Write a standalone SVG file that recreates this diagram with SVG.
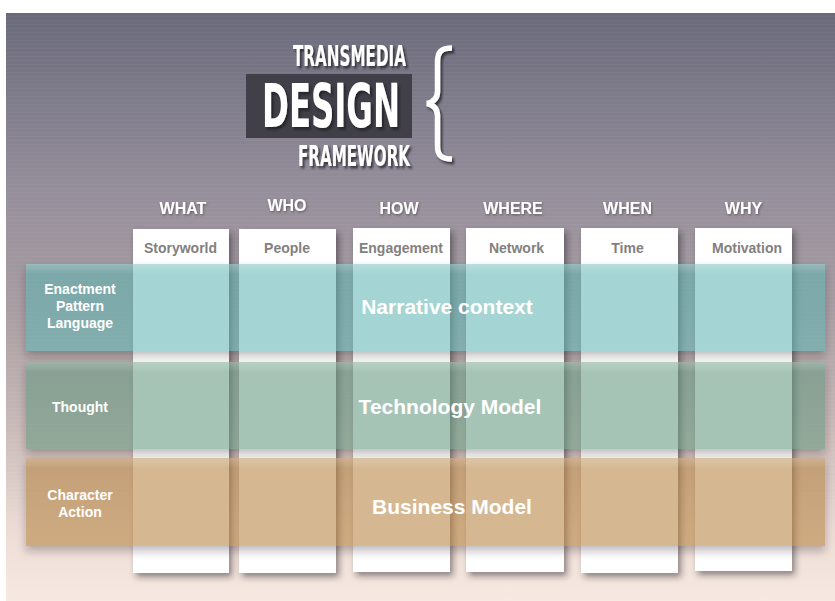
<svg xmlns="http://www.w3.org/2000/svg" width="835" height="601" viewBox="0 0 835 601">
  <defs>
    <linearGradient id="bg" x1="0" y1="0" x2="0" y2="1">
      <stop offset="0" stop-color="#6a6a7b"/>
      <stop offset="0.3" stop-color="#958e9b"/>
      <stop offset="0.5" stop-color="#a89da2"/>
      <stop offset="0.7" stop-color="#c9b9b8"/>
      <stop offset="0.88" stop-color="#ecdcd5"/>
      <stop offset="1" stop-color="#f7e9e1"/>
    </linearGradient>
    <pattern id="stripes" width="4" height="4" patternUnits="userSpaceOnUse">
      <rect width="4" height="1" fill="#ffffff" opacity="0.035"/>
    </pattern>
    <linearGradient id="sheen" x1="0" y1="0" x2="0" y2="1">
      <stop offset="0" stop-color="#ffffff" stop-opacity="0.22"/>
      <stop offset="0.12" stop-color="#ffffff" stop-opacity="0"/>
    </linearGradient>
    <filter id="colShadow" x="-20%" y="-10%" width="140%" height="125%">
      <feDropShadow dx="3" dy="4" stdDeviation="3" flood-color="#2a2228" flood-opacity="0.5"/>
    </filter>
    <!-- shadow cast only outside the shape, so translucent bands stay clean -->
    <filter id="outerShadow" x="-5%" y="-20%" width="110%" height="150%">
      <feGaussianBlur in="SourceAlpha" stdDeviation="4" result="blur"/>
      <feOffset in="blur" dx="0" dy="5" result="off"/>
      <feFlood flood-color="#2a2228" flood-opacity="0.3"/>
      <feComposite in2="off" operator="in" result="shade"/>
      <feComposite in="shade" in2="SourceAlpha" operator="out"/>
    </filter>
    <filter id="titleShadow" x="-10%" y="-10%" width="130%" height="140%">
      <feDropShadow dx="2" dy="2.5" stdDeviation="1.2" flood-color="#1c1a20" flood-opacity="0.75"/>
    </filter>
    <filter id="softShadow" x="-10%" y="-20%" width="130%" height="160%">
      <feDropShadow dx="0.8" dy="1.2" stdDeviation="0.8" flood-color="#3a3238" flood-opacity="0.55"/>
    </filter>
  </defs>
  <style>
    .title { font-family: "DejaVu Sans Condensed", "Liberation Sans Narrow", "Liberation Sans", sans-serif; font-stretch: condensed; font-weight: bold; fill: #ffffff; }
    .head { font-family: "Liberation Sans", Arial, sans-serif; font-weight: bold; font-size: 16px; fill: #ffffff; text-anchor: middle; }
    .sub { font-family: "Liberation Sans", Arial, sans-serif; font-weight: bold; font-size: 14px; fill: #838080; text-anchor: middle; }
    .row { font-family: "Liberation Sans", Arial, sans-serif; font-weight: bold; font-size: 14px; fill: #ffffff; text-anchor: middle; }
    .band-label { font-family: "Liberation Sans", Arial, sans-serif; font-weight: bold; font-size: 21px; fill: #ffffff; text-anchor: middle; }
    .col { fill: #ffffff; }
    .shade { fill: #000000; filter: url(#outerShadow); }
    .band { fill-opacity: 0.57; }
  </style>

  <!-- backdrop -->
  <rect x="6" y="13" width="829" height="588" fill="url(#bg)"/>
  <rect x="6" y="13" width="829" height="588" fill="url(#stripes)"/>

  <!-- title block -->
  <g id="title">
    <rect x="246" y="74" width="166" height="64" fill="#413f47"/>
    <g filter="url(#titleShadow)">
      <text class="title" x="293" y="66" font-size="29" textLength="113" lengthAdjust="spacingAndGlyphs">TRANSMEDIA</text>
      <text class="title" x="262" y="127" font-size="61" textLength="138" lengthAdjust="spacingAndGlyphs">DESIGN</text>
      <text class="title" x="298" y="166" font-size="28" textLength="112" lengthAdjust="spacingAndGlyphs">FRAMEWORK</text>
      <path d="M452 48 C441 48 437.5 52 437.5 62 L437.5 91 C437.5 98 434 102 427 103.5 C434 105 437.5 109 437.5 116 L437.5 146 C437.5 155 441 159 452 159" fill="none" stroke="#ffffff" stroke-width="5.5"/>
    </g>
  </g>

  <!-- column headers -->
  <g id="headers" filter="url(#softShadow)">
    <text class="head" x="183" y="214">WHAT</text>
    <text class="head" x="287" y="211">WHO</text>
    <text class="head" x="399" y="214">HOW</text>
    <text class="head" x="513" y="214">WHERE</text>
    <text class="head" x="627.5" y="214">WHEN</text>
    <text class="head" x="743.5" y="214">WHY</text>
  </g>

  <!-- columns -->
  <g id="col-storyworld" filter="url(#colShadow)">
    <rect class="col" x="133" y="229" width="96" height="344"/>
  </g>
  <g id="col-people" filter="url(#colShadow)">
    <rect class="col" x="239" y="229" width="97" height="344"/>
  </g>
  <g id="col-engagement" filter="url(#colShadow)">
    <rect class="col" x="353" y="228" width="97" height="344"/>
  </g>
  <g id="col-network" filter="url(#colShadow)">
    <rect class="col" x="466" y="228" width="98" height="344"/>
  </g>
  <g id="col-time" filter="url(#colShadow)">
    <rect class="col" x="581" y="228" width="97" height="345"/>
  </g>
  <g id="col-motivation" filter="url(#colShadow)">
    <rect class="col" x="695" y="228" width="97" height="343"/>
  </g>

  <g id="col-labels">
    <text class="sub" x="180.5" y="253">Storyworld</text>
    <text class="sub" x="287" y="253">People</text>
    <text class="sub" x="401" y="253">Engagement</text>
    <text class="sub" x="516.5" y="253">Network</text>
    <text class="sub" x="627.5" y="253">Time</text>
    <text class="sub" x="747" y="253">Motivation</text>
  </g>

  <!-- translucent bands -->
  <g id="band-narrative">
    <rect class="shade" x="26" y="264" width="799" height="87"/>
    <rect class="band" x="26" y="264" width="799" height="87" fill="rgb(95,180,178)"/>
    <rect x="26" y="264" width="799" height="87" fill="url(#sheen)"/>
    <text class="row" x="80" y="294">Enactment</text>
    <text class="row" x="80" y="311">Pattern</text>
    <text class="row" x="80" y="328">Language</text>
    <text class="band-label" x="447" y="314">Narrative context</text>
  </g>
  <g id="band-technology">
    <rect class="shade" x="26" y="362" width="799" height="87"/>
    <rect class="band" x="26" y="362" width="799" height="87" fill="rgb(99,151,127)"/>
    <rect x="26" y="362" width="799" height="87" fill="url(#sheen)"/>
    <text class="row" x="80" y="412">Thought</text>
    <text class="band-label" x="450" y="414">Technology Model</text>
  </g>
  <g id="band-business">
    <rect class="shade" x="26" y="458" width="799" height="88"/>
    <rect class="band" x="26" y="458" width="799" height="88" fill="rgb(181,130,64)"/>
    <rect x="26" y="458" width="799" height="88" fill="url(#sheen)"/>
    <text class="row" x="80" y="500">Character</text>
    <text class="row" x="80" y="517">Action</text>
    <text class="band-label" x="452" y="514">Business Model</text>
  </g>
</svg>
